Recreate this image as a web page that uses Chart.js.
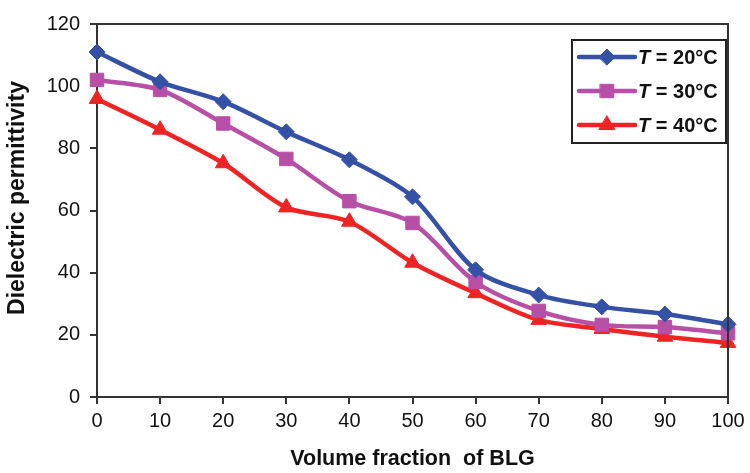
<!DOCTYPE html>
<html>
<head>
<meta charset="utf-8">
<script src="https://cdn.jsdelivr.net/npm/chart.js@4"></script>
<style>
  html, body { margin: 0; padding: 0; background: #fff; }
  #wrap { width: 750px; height: 473px; }
</style>
</head>
<body>
<div id="wrap"><canvas id="dielChart" width="750" height="473"></canvas></div>
<script>
// data
const fractions = ["0", "10", "20", "30", "40", "50", "60", "70", "80", "90", "100"];
const seriesNames = ["20°C", "30°C", "40°C"];
const t20 = [111, 101.4, 95, 85.3, 76.3, 64.4, 40.9, 32.8, 29, 26.7, 23.4];
const t30 = [102, 98.8, 88, 76.6, 63, 56, 37, 27.7, 23.2, 22.5, 20.5];
const t40 = [95.9, 86, 75.2, 61, 56.4, 43.2, 33.4, 24.8, 21.9, 19.4, 17.4];
const yTicks = [0, 20, 40, 60, 80, 100, 120];
const yTitle = "Dielectric permittivity";
const xTitle = "Volume fraction  of BLG";

const colors = ["#3551a5", "#b84fa6", "#ee2424"];
const markers = ["rectRot", "rect", "triangle"];
const markerSize = [8, 9.5, 9];
const values = [t20, t30, t40];

const axisColor = "#333";
const fontFam = "'Liberation Sans', Arial, sans-serif";

// box around the plot, y title, legend with italic T
const framePlugin = {
    id: 'frame',
    afterDraw(chart) {
        const ctx = chart.ctx;
        const a = chart.chartArea;
        ctx.save();
        ctx.strokeStyle = axisColor;
        ctx.lineWidth = 2;
        ctx.beginPath();
        ctx.moveTo(a.left, a.top);
        ctx.lineTo(a.right, a.top);
        ctx.lineTo(a.right, a.bottom);
        ctx.stroke();

        // y title, sits a bit above the middle like the original
        ctx.save();
        ctx.translate(18, 198);
        ctx.rotate(-Math.PI / 2);
        ctx.fillStyle = "#111";
        ctx.font = "bold 23px " + fontFam;
        ctx.textAlign = 'center';
        ctx.textBaseline = 'middle';
        ctx.fillText(yTitle, 0, 0);
        ctx.restore();

        // legend
        const bx = 572, by = 40, bw = 154, bh = 103;
        ctx.fillStyle = "#fff";
        ctx.fillRect(bx, by, bw, bh);
        ctx.strokeStyle = "#222";
        ctx.lineWidth = 2;
        ctx.strokeRect(bx, by, bw, bh);
        chart.data.datasets.forEach((ds, i) => {
            const cy = 57 + i * 34;
            ctx.strokeStyle = ds.borderColor;
            ctx.lineWidth = 4.5;
            ctx.lineCap = 'round';
            ctx.beginPath();
            ctx.moveTo(579, cy);
            ctx.lineTo(635, cy);
            ctx.stroke();
            ctx.fillStyle = ds.pointBackgroundColor;
            ctx.strokeStyle = ds.pointBackgroundColor;
            ctx.lineWidth = 1;
            Chart.helpers.drawPoint(ctx, {
                pointStyle: ds.pointStyle,
                radius: ds.pointRadius,
                rotation: 0,
                borderWidth: 1
            }, 607, cy);
            ctx.fillStyle = "#111";
            ctx.textBaseline = 'middle';
            ctx.textAlign = 'left';
            ctx.font = "italic bold 20px " + fontFam;
            ctx.fillText("T", 638, cy + 1);
            const tw = ctx.measureText("T").width;
            ctx.font = "bold 20px " + fontFam;
            ctx.fillText(" = " + seriesNames[i], 638 + tw, cy + 1);
        });
        ctx.restore();
    }
};

const ctx = document.getElementById('dielChart').getContext('2d');
const dielChart = new Chart(ctx, {
    type: 'line',
    data: {
        labels: fractions,
        datasets: values.map((v, i) => ({
            label: "T = " + seriesNames[i],
            data: v,
            borderColor: colors[i],
            backgroundColor: colors[i],
            pointBackgroundColor: colors[i],
            pointBorderColor: colors[i],
            pointStyle: markers[i],
            pointRadius: markerSize[i],
            pointBorderWidth: 1,
            borderWidth: 4.5,
            tension: 0.3,
            fill: false
        }))
    },
    options: {
        responsive: false,
        animation: false,
        layout: { padding: { left: 0, right: 22, top: 24, bottom: 0 } },
        plugins: {
            legend: { display: false },
            tooltip: { enabled: false }
        },
        scales: {
            x: {
                type: 'category',
                offset: false,
                grid: { drawOnChartArea: false, drawTicks: true, tickLength: 7, color: axisColor, lineWidth: 2 },
                border: { color: axisColor, width: 2 },
                ticks: { color: "#111", font: { family: fontFam, size: 20 }, padding: 5, maxRotation: 0, autoSkip: false },
                title: {
                    display: true,
                    text: xTitle,
                    color: "#111",
                    font: { family: fontFam, size: 21.5, weight: 'bold' },
                    padding: { top: 0, bottom: 1 }
                },
                afterFit(scale) { scale.height = 76; }
            },
            y: {
                min: 0,
                max: 120,
                afterBuildTicks(scale) { scale.ticks = yTicks.map(v => ({ value: v })); },
                grid: { drawOnChartArea: false, drawTicks: true, tickLength: 7, color: axisColor, lineWidth: 2 },
                border: { color: axisColor, width: 2 },
                ticks: { color: "#111", font: { family: fontFam, size: 20 }, padding: 10 },
                title: { display: false },
                afterFit(scale) { scale.width = 97; }
            }
        }
    },
    plugins: [framePlugin]
});
</script>
</body>
</html>
